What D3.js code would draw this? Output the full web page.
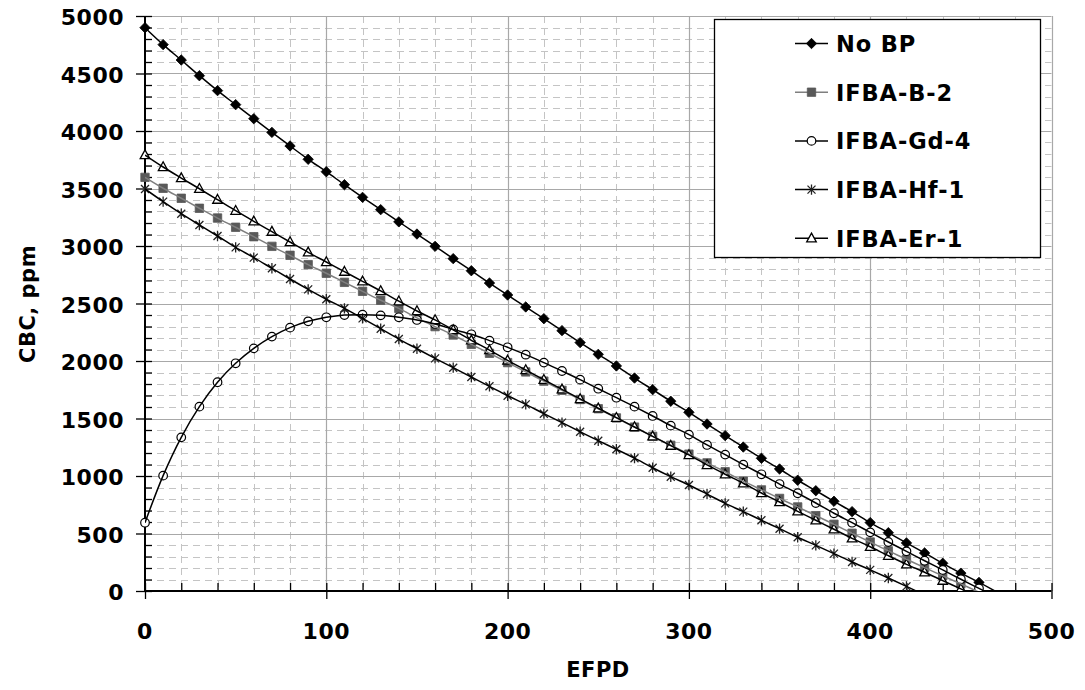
<!DOCTYPE html>
<html><head><meta charset="utf-8">
<script src="https://cdn.jsdelivr.net/npm/d3@7"></script>
<style>
html,body{margin:0;padding:0;background:#fff;}
svg{display:block;}
text{font-family:"DejaVu Sans",Verdana,sans-serif;font-weight:bold;fill:#000;}
</style></head>
<body>
<svg id="chart" width="1085" height="690"></svg>
<script>
// ---------- data ----------
const efpd = [0,10,20,30,40,50,60,70,80,90,100,110,120,130,140,150,160,170,180,190,200,210,220,230,240,250,260,270,280,290,300,310,320,330,340,350,360,370,380,390,400,410,420,430,440,450,460,470];
const seriesNames = ["No BP","IFBA-B-2","IFBA-Gd-4","IFBA-Hf-1","IFBA-Er-1"];
const noBP = [4898,4751,4617,4481,4351,4229,4107,3988,3870,3754,3646,3533,3423,3316,3210,3104,2997,2890,2785,2678,2574,2470,2368,2264,2160,2058,1957,1852,1751,1650,1554,1452,1351,1252,1154,1061,963,872,780,690,595,507,418,331,241,155,75,-10];
const ifbaB2 = [3597,3502,3415,3328,3243,3163,3081,2997,2919,2838,2763,2684,2606,2528,2458,2375,2299,2226,2145,2067,1986,1905,1825,1745,1665,1585,1505,1425,1345,1267,1190,1114,1037,955,879,805,731,655,580,502,426,349,276,203,132,62,-10,null];
const ifbaGd4 = [594,1003,1336,1603,1815,1980,2110,2212,2290,2345,2380,2400,2403,2397,2380,2357,2322,2275,2232,2177,2119,2055,1986,1913,1838,1759,1681,1603,1522,1438,1360,1270,1186,1099,1015,930,850,765,676,594,510,426,345,263,183,102,23,-58];
const ifbaHf1 = [3496,3386,3281,3183,3087,2988,2899,2806,2713,2623,2537,2458,2371,2281,2191,2107,2023,1942,1861,1780,1698,1623,1542,1464,1385,1307,1232,1155,1072,994,922,843,762,690,615,542,467,397,325,252,184,113,40,-35,null,null,null,null];
const ifbaEr1 = [3791,3687,3591,3498,3403,3307,3215,3125,3035,2945,2861,2777,2693,2609,2520,2435,2357,2270,2180,2095,2005,1922,1837,1754,1670,1589,1507,1426,1345,1264,1183,1096,1015,937,852,774,693,615,537,458,385,307,232,163,90,18,-55,null];
const xTicks = [0,100,200,300,400,500];
const yTicks = [0,500,1000,1500,2000,2500,3000,3500,4000,4500,5000];
const xTitle = "EFPD";
const yTitle = "CBC, ppm";

// ---------- setup ----------
const svg = d3.select("#chart");
const L = 145, R = 1051.5, T = 16, B = 591;
const x = d3.scaleLinear().domain([0,500]).range([L,R]);
const y = d3.scaleLinear().domain([0,5000]).range([B,T]);
const snap = v => Math.round(v) + 0.5;

const series = [
  {name:seriesNames[0], values:noBP,   line:"#000", marker:"diamond"},
  {name:seriesNames[1], values:ifbaB2, line:"#7f7f7f", marker:"square"},
  {name:seriesNames[2], values:ifbaGd4,line:"#000", marker:"circle"},
  {name:seriesNames[3], values:ifbaHf1,line:"#000", marker:"star"},
  {name:seriesNames[4], values:ifbaEr1,line:"#000", marker:"triangle"}
];

// ---------- grid ----------
const g = svg.append("g");
const minorX = d3.range(20,501,20).filter(v => v % 100 !== 0);
const minorY = d3.range(100,5001,100).filter(v => v % 500 !== 0);
g.selectAll(".mgx").data(minorX).join("line")
  .attr("x1",d=>snap(x(d))).attr("x2",d=>snap(x(d))).attr("y1",T).attr("y2",B)
  .attr("stroke","#c4c4c4").attr("stroke-width",1).attr("stroke-dasharray","7,5");
g.selectAll(".mgy").data(minorY).join("line")
  .attr("y1",d=>snap(y(d))).attr("y2",d=>snap(y(d))).attr("x1",L).attr("x2",R)
  .attr("stroke","#c4c4c4").attr("stroke-width",1).attr("stroke-dasharray","7,5");
g.selectAll(".Mgx").data(xTicks.filter(d=>d>0)).join("line")
  .attr("x1",d=>snap(x(d))).attr("x2",d=>snap(x(d))).attr("y1",T).attr("y2",B)
  .attr("stroke","#a8a8a8").attr("stroke-width",1.2);
g.selectAll(".Mgy").data(yTicks.filter(d=>d>0)).join("line")
  .attr("y1",d=>snap(y(d))).attr("y2",d=>snap(y(d))).attr("x1",L).attr("x2",R)
  .attr("stroke","#a8a8a8").attr("stroke-width",1.2);

// ---------- axes ----------
const xAxisMinor = d3.axisBottom(x).tickValues(d3.range(0,501,20)).tickSize(-8).tickFormat("");
const xAxisMajor = d3.axisBottom(x).tickValues(xTicks).tickSize(8).tickFormat("");
const yAxisMinor = d3.axisLeft(y).tickValues(d3.range(0,5001,100)).tickSize(-7).tickFormat("");
const yAxisMajor = d3.axisLeft(y).tickValues(yTicks).tickSize(9).tickFormat("");
function styleAxis(sel){ sel.select(".domain").remove(); sel.selectAll("line").attr("stroke","#000").attr("stroke-width",1.3); }
svg.append("g").attr("transform",`translate(0,${B})`).call(xAxisMinor).call(styleAxis);
svg.append("g").attr("transform",`translate(0,${B})`).call(xAxisMajor).call(styleAxis);
svg.append("g").attr("transform",`translate(${L},0)`).call(yAxisMinor).call(styleAxis);
svg.append("g").attr("transform",`translate(${L},0)`).call(yAxisMajor).call(styleAxis);
svg.append("line").attr("x1",L).attr("x2",R).attr("y1",B).attr("y2",B).attr("stroke","#000").attr("stroke-width",2);
svg.append("line").attr("x1",L).attr("x2",L).attr("y1",T).attr("y2",B).attr("stroke","#000").attr("stroke-width",2);

// tick labels
svg.selectAll(".xl").data(xTicks).join("text")
  .attr("x",d=>x(d)).attr("y",639).attr("text-anchor","middle")
  .attr("font-size",22).attr("letter-spacing",0.5).text(d=>d);
svg.selectAll(".yl").data(yTicks).join("text")
  .attr("x",124).attr("y",d=>y(d)+9).attr("text-anchor","end")
  .attr("font-size",22).attr("letter-spacing",0.5).text(d=>d);

// titles
svg.append("text").attr("x",598).attr("y",677).attr("text-anchor","middle")
  .attr("font-size",21).attr("letter-spacing",0.5).text(xTitle);
svg.append("text").attr("transform","translate(35,304) rotate(-90)").attr("text-anchor","middle")
  .attr("font-size",21).attr("letter-spacing",0.5).text(yTitle);

// ---------- series ----------
svg.append("defs").append("clipPath").attr("id","plotclip")
  .append("rect").attr("x",L-10).attr("y",T-10).attr("width",R-L+20).attr("height",B-T+10);

const lineGen = d3.line()
  .defined(d=>d.v!==null)
  .x(d=>x(d.e)).y(d=>y(d.v))
  .curve(d3.curveCatmullRom.alpha(0.5));

function markerPath(type){
  switch(type){
    case "diamond": return "M0,-5.2L5.2,0L0,5.2L-5.2,0Z";
    case "square": return "M-4.2,-4.2H4.2V4.2H-4.2Z";
    case "triangle": return "M0,-5.2L4.8,3.6L-4.8,3.6Z";
    case "star": return "M-4,-4L4,4M-4,4L4,-4M0,-5.2L0,5.2";
    default: return null;
  }
}
function drawMarker(sel, type){
  if(type==="circle"){
    sel.append("circle").attr("r",4.3).attr("fill","#fff").attr("stroke","#000").attr("stroke-width",1.2);
  } else {
    const p = sel.append("path").attr("d",markerPath(type));
    if(type==="diamond") p.attr("fill","#000").attr("stroke","#000").attr("stroke-width",0.8);
    else if(type==="square") p.attr("fill","#595959").attr("stroke","#595959").attr("stroke-width",0.8);
    else if(type==="triangle") p.attr("fill","#fff").attr("stroke","#000").attr("stroke-width",1.3);
    else if(type==="star") p.attr("fill","none").attr("stroke","#222").attr("stroke-width",1.3);
  }
}

const plot = svg.append("g").attr("clip-path","url(#plotclip)");
svg.append("defs").append("clipPath").attr("id","lineclip")
  .append("rect").attr("x",L).attr("y",T).attr("width",R-L).attr("height",B-T);

series.forEach(s=>{
  const pts = efpd.map((e,i)=>({e, v: s.values[i]}));
  svg.append("path").datum(pts)
    .attr("clip-path","url(#lineclip)")
    .attr("d",lineGen).attr("fill","none")
    .attr("stroke",s.line).attr("stroke-width",1.5);
});
const drawOrder = [1,0,2,3,4];
drawOrder.forEach(k=>{
  const s = series[k];
  const pts = efpd.map((e,i)=>({e, v: s.values[i]})).filter(d=>d.v!==null && d.v>=0);
  pts.forEach(d=>{
    const m = plot.append("g").attr("transform",`translate(${x(d.e)},${y(d.v)})`);
    drawMarker(m, s.marker);
  });
});

// ---------- legend ----------
const lg = svg.append("g");
lg.append("rect").attr("x",714.5).attr("y",19.5).attr("width",326).attr("height",238)
  .attr("fill","#fff").attr("stroke","#000").attr("stroke-width",1.3);
series.forEach((s,i)=>{
  const cy = 43.5 + i*48.7;
  lg.append("line").attr("x1",795).attr("x2",828).attr("y1",cy).attr("y2",cy)
    .attr("stroke",s.line).attr("stroke-width",1.5);
  const m = lg.append("g").attr("transform",`translate(811.5,${cy})`);
  drawMarker(m, s.marker);
  lg.append("text").attr("x",836).attr("y",cy+8.5).attr("font-size",22.5)
    .attr("letter-spacing",0.9).text(s.name);
});
</script>
</body></html>
